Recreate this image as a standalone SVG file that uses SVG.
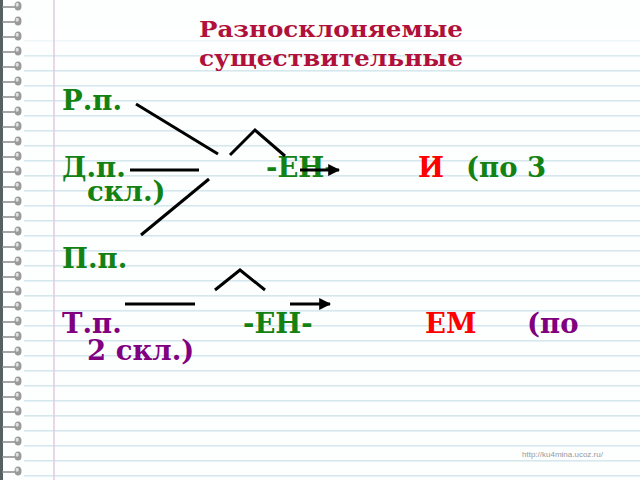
<svg xmlns="http://www.w3.org/2000/svg" width="640" height="480" viewBox="0 0 640 480">
<defs>
<pattern id="rules" x="0" y="55" width="640" height="15" patternUnits="userSpaceOnUse">
<rect x="0" y="0" width="640" height="1.6" fill="#d6e8ee"/>
</pattern>
<pattern id="rings" x="0" y="-1" width="24" height="15" patternUnits="userSpaceOnUse">
<line x1="2" y1="8" x2="15" y2="8" stroke="#8a8a8a" stroke-width="1.5"/>
<ellipse cx="18" cy="7" rx="3.5" ry="4.5" fill="#9a9a9a"/>
<ellipse cx="17.2" cy="5.8" rx="1.6" ry="2" fill="#e0e0e0"/>
</pattern>
<linearGradient id="fade" x1="0" y1="0" x2="0" y2="1">
<stop offset="0" stop-color="#fff" stop-opacity="1"/>
<stop offset="1" stop-color="#fff" stop-opacity="0"/>
</linearGradient>
<marker id="ah" viewBox="0 0 10 10" refX="9" refY="5" markerWidth="4" markerHeight="4" orient="auto" markerUnits="strokeWidth">
<path d="M0,0 L10,5 L0,10 Z" fill="#000"/>
</marker>
</defs>
<style>
.t{font-family:"DejaVu Serif","Liberation Serif",serif;font-weight:bold;}
.big{font-size:27.5px;}
.title{font-size:23px;fill:#b0103a;}
.g{fill:#138213;}
.r{fill:#ff0000;}
.p{fill:#800080;}
.ln{stroke:#000;stroke-width:3;fill:none;}
</style>
<rect width="640" height="480" fill="#fdfefe"/>
<rect x="24" y="40" width="616" height="440" fill="url(#rules)"/>
<rect x="24" y="30" width="616" height="30" fill="url(#fade)"/>
<line x1="54" y1="0" x2="54" y2="480" stroke="#e2c8e0" stroke-width="1.5"/>
<rect x="0" y="0" width="3" height="480" fill="#556060"/>
<rect x="0" y="0" width="24" height="480" fill="url(#rings)"/>
<g id="title">
<text class="t title" x="199" y="37" textLength="264" lengthAdjust="spacingAndGlyphs">Разносклоняемые</text>
<text class="t title" x="199" y="66" textLength="264" lengthAdjust="spacingAndGlyphs">существительные</text>
</g>
<g id="rp"><text class="t big g" x="62" y="110">Р.п.</text></g>
<g id="dp"><text class="t big g" x="62" y="177">Д.п.</text></g>
<g id="en1"><text class="t big g" x="266" y="177">-ЕН-</text></g>
<g id="i"><text class="t big r" x="418" y="177">И</text></g>
<g id="po3"><text class="t big g" x="466" y="177">(по 3</text><text class="t big g" x="87" y="201">скл.)</text></g>
<g id="pp"><text class="t big g" x="62" y="268">П.п.</text></g>
<g id="tp"><text class="t big p" x="62" y="333">Т.п.</text></g>
<g id="en2"><text class="t big g" x="243" y="333">-ЕН-</text></g>
<g id="em"><text class="t big r" x="425" y="333">ЕМ</text></g>
<g id="po2"><text class="t big p" x="527" y="333">(по</text><text class="t big p" x="87" y="360">2 скл.)</text></g>
<g id="connectors">
<line class="ln" x1="136" y1="104" x2="218" y2="154"/>
<line class="ln" x1="130" y1="170" x2="199" y2="170"/>
<line class="ln" x1="209" y1="179" x2="141" y2="235"/>
<polyline class="ln" points="230,155 255,130 285,156"/>
<line class="ln" x1="300" y1="170" x2="339" y2="170" stroke-width="2.5" marker-end="url(#ah)"/>
<polyline class="ln" points="215,290 240,270 265,290"/>
<line class="ln" x1="125" y1="304" x2="195" y2="304"/>
<line class="ln" x1="290" y1="304" x2="330" y2="304" stroke-width="2.5" marker-end="url(#ah)"/>
</g>
<text x="522" y="457" font-family="Liberation Sans, sans-serif" font-size="8" fill="#999">http://ku4mina.ucoz.ru/</text>
</svg>
